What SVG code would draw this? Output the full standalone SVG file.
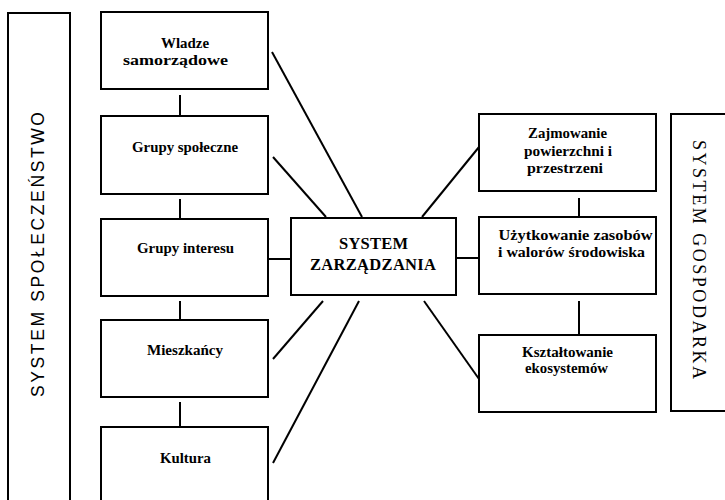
<svg xmlns="http://www.w3.org/2000/svg" width="725" height="500" viewBox="0 0 725 500">
<style>
.box{fill:#fff;stroke:#000;stroke-width:2}
.ln{stroke:#000;stroke-width:2;fill:none}
.t{font-family:"Liberation Serif","Times New Roman",serif;font-weight:bold;font-size:14px;text-anchor:middle;fill:#000}
.c{font-family:"Liberation Serif","Times New Roman",serif;font-weight:bold;font-size:16.5px;text-anchor:middle;fill:#000}
.vs{font-family:"Liberation Sans",Arial,sans-serif;font-size:17.5px;text-anchor:middle;fill:#000}
.vr{font-family:"Liberation Serif","Times New Roman",serif;font-size:18px;text-anchor:middle;fill:#000}
</style>
<rect width="725" height="500" fill="#fff"/>
<g id="connectors">
<line class="ln" x1="180" y1="95" x2="180" y2="116"/>
<line class="ln" x1="180" y1="199" x2="180" y2="219"/>
<line class="ln" x1="180" y1="301" x2="180" y2="320"/>
<line class="ln" x1="180" y1="402" x2="180" y2="427"/>
<line class="ln" x1="579" y1="198" x2="579" y2="217"/>
<line class="ln" x1="579" y1="301" x2="579" y2="335"/>
<line class="ln" x1="268" y1="259" x2="291" y2="259"/>
<line class="ln" x1="456" y1="258" x2="479" y2="258"/>
<line class="ln" x1="272" y1="52" x2="362" y2="217"/>
<line class="ln" x1="273" y1="157" x2="326" y2="217"/>
<line class="ln" x1="273" y1="359" x2="323" y2="301"/>
<line class="ln" x1="273" y1="463" x2="359" y2="301"/>
<line class="ln" x1="422" y1="217" x2="479" y2="147"/>
<line class="ln" x1="424" y1="301" x2="479" y2="379"/>
</g>
<g id="panel-spoleczenstwo">
<rect class="box" x="8" y="13" width="62" height="500"/>
<text class="vs" transform="translate(44,254.5) rotate(-90)" textLength="285" lengthAdjust="spacing">SYSTEM  SPOŁECZEŃSTWO</text>
</g>
<g id="panel-gospodarka">
<rect class="box" x="671" y="114" width="70" height="297"/>
<text class="vr" transform="translate(693,259.5) rotate(90)" textLength="239" lengthAdjust="spacing">SYSTEM  GOSPODARKA</text>
</g>
<g id="wladze">
<rect class="box" x="101" y="12" width="167" height="77"/>
<text class="t" x="185" y="48" textLength="48" lengthAdjust="spacingAndGlyphs">Wladze</text>
<text class="t" x="175.5" y="65" textLength="105" lengthAdjust="spacingAndGlyphs">samorządowe</text>
</g>
<g id="grupy-spoleczne">
<rect class="box" x="101" y="116" width="167" height="78"/>
<text class="t" x="185" y="152" textLength="106" lengthAdjust="spacingAndGlyphs">Grupy społeczne</text>
</g>
<g id="grupy-interesu">
<rect class="box" x="101" y="219" width="167" height="77"/>
<text class="t" x="185.5" y="253" textLength="97" lengthAdjust="spacingAndGlyphs">Grupy interesu</text>
</g>
<g id="mieszkancy">
<rect class="box" x="101" y="320" width="167" height="77"/>
<text class="t" x="185" y="355" textLength="76" lengthAdjust="spacingAndGlyphs">Mieszkańcy</text>
</g>
<g id="kultura">
<rect class="box" x="101" y="427" width="167" height="90"/>
<text class="t" x="185.5" y="463" textLength="51" lengthAdjust="spacingAndGlyphs">Kultura</text>
</g>
<g id="system-zarzadzania">
<rect class="box" x="291" y="218" width="165" height="77"/>
<text class="c" x="373.5" y="249" textLength="69" lengthAdjust="spacing">SYSTEM</text>
<text class="c" x="373" y="270" textLength="126" lengthAdjust="spacing">ZARZĄDZANIA</text>
</g>
<g id="zajmowanie">
<rect class="box" x="479" y="114" width="177" height="77"/>
<text class="t" x="567.5" y="138" textLength="79" lengthAdjust="spacingAndGlyphs">Zajmowanie</text>
<text class="t" x="568" y="156" textLength="88" lengthAdjust="spacingAndGlyphs">powierzchni i</text>
<text class="t" x="565" y="173" textLength="76" lengthAdjust="spacingAndGlyphs">przestrzeni</text>
</g>
<g id="uzytkowanie">
<rect class="box" x="479" y="217" width="177" height="77"/>
<text class="t" x="575.5" y="240" textLength="154" lengthAdjust="spacingAndGlyphs">Użytkowanie zasobów</text>
<text class="t" x="571.5" y="257" textLength="147" lengthAdjust="spacingAndGlyphs">i walorów środowiska</text>
</g>
<g id="ksztaltowanie">
<rect class="box" x="479" y="335" width="177" height="77"/>
<text class="t" x="567.5" y="357" textLength="91" lengthAdjust="spacingAndGlyphs">Kształtowanie</text>
<text class="t" x="566.5" y="373" textLength="83" lengthAdjust="spacingAndGlyphs">ekosystemów</text>
</g>
</svg>
